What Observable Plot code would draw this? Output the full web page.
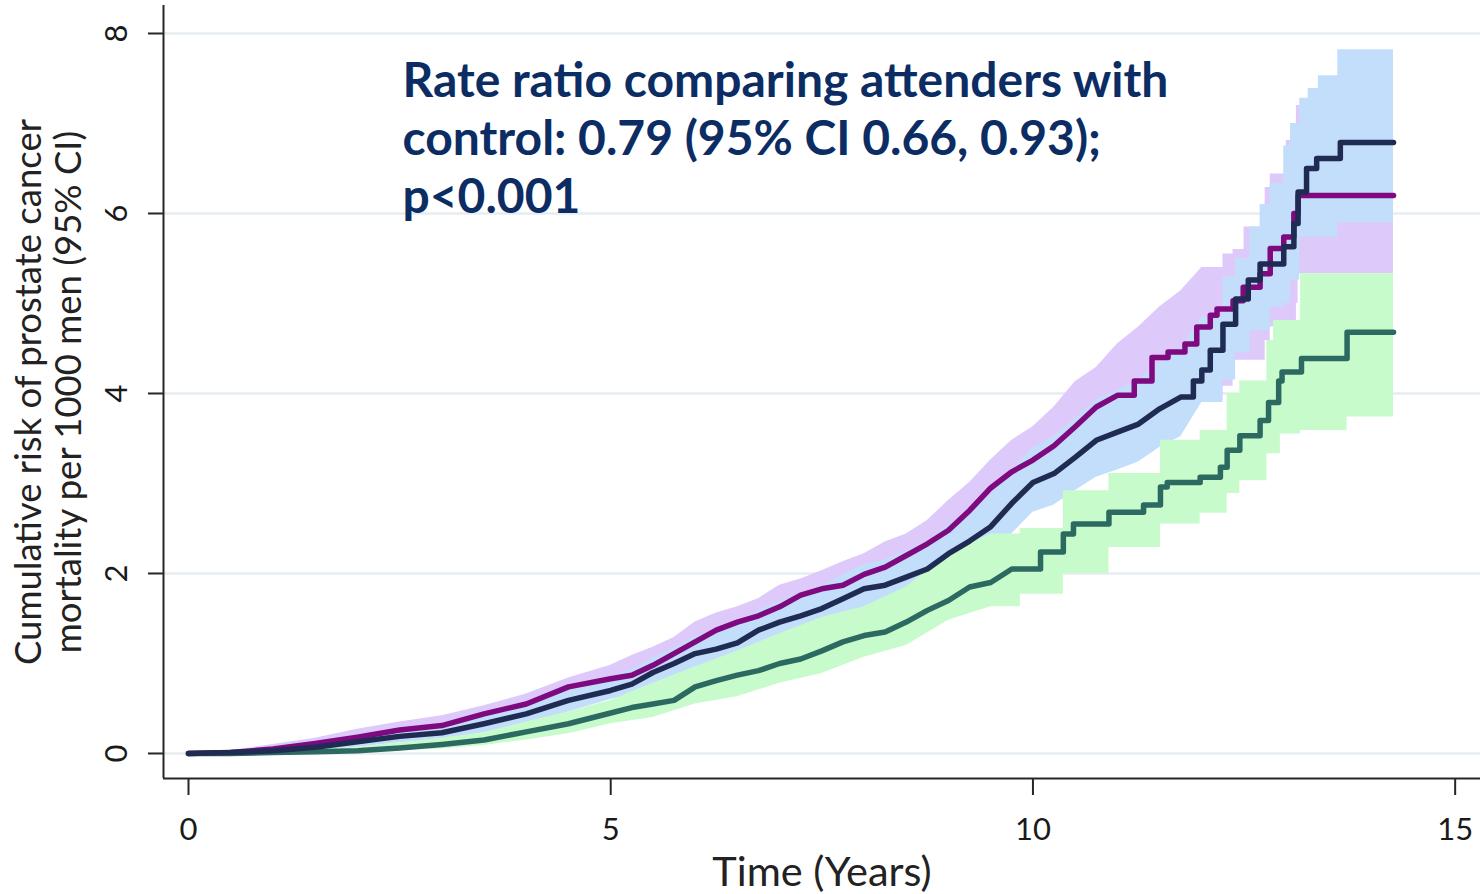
<!DOCTYPE html>
<html>
<head>
<meta charset="utf-8">
<script src="https://cdn.jsdelivr.net/npm/d3@7"></script>
<script src="https://cdn.jsdelivr.net/npm/@observablehq/plot@0.6"></script>
<style>
  html, body { margin: 0; padding: 0; background: #ffffff; }
  #chart svg { display: block; }
</style>
</head>
<body>
<div id="chart"></div>
<script>
// ---------- DATA ----------
const xTicks = [0, 5, 10, 15];
const yTicks = [0, 2, 4, 6, 8];
const xTitle = "Time (Years)";
const yTitle = "Cumulative risk of prostate cancer\nmortality per 1000 men (95% CI)";
const annotation = "Rate ratio comparing attenders with\ncontrol: 0.79 (95% CI 0.66, 0.93);\np<0.001";

// purple series
const purpleT = [0,0.5,1,1.5,2,2.5,3,3.5,4,4.5,5,5.25,5.5,5.75,6,6.25,6.5,6.75,7,7.25,7.5,7.75,8,8.25,8.5,8.75,9,9.25,9.5,9.75,10,10.25,10.5,10.75,11,11.2,11.41,11.6,11.8,11.94,12.1,12.18,12.37,12.49,12.69,12.81,12.97,13.09,13.14,14.27];
const purpleV = [0,0.01,0.05,0.11,0.18,0.26,0.31,0.44,0.55,0.74,0.83,0.87,0.98,1.11,1.24,1.37,1.46,1.53,1.63,1.76,1.83,1.87,1.99,2.07,2.2,2.33,2.48,2.7,2.95,3.13,3.26,3.42,3.63,3.85,3.98,4.14,4.40,4.46,4.55,4.74,4.87,4.94,5.03,5.18,5.33,5.61,5.74,6.0,6.2,6.2];
const purpleBandT = [0,0.5,1,1.5,2,2.5,3,3.5,4,4.5,5,5.25,5.5,5.75,6,6.25,6.5,6.75,7,7.25,7.5,7.75,8,8.25,8.5,8.75,9,9.25,9.5,9.75,10,10.25,10.5,10.75,11,11.25,11.5,11.75,12,12.25,12.37,12.5,12.75,12.81,13.0,13.12,13.14,14.27];
const purpleHi = [0,0.03,0.1,0.17,0.27,0.35,0.42,0.53,0.66,0.84,0.98,1.09,1.18,1.29,1.46,1.56,1.63,1.72,1.87,1.94,2.03,2.13,2.22,2.35,2.44,2.59,2.81,3.01,3.26,3.48,3.63,3.85,4.13,4.29,4.55,4.74,4.96,5.14,5.40,5.55,5.6,5.85,6.29,6.44,6.81,7.2,7.2,7.2];
const purpleLo = [0,0,0.02,0.06,0.11,0.17,0.22,0.33,0.43,0.6,0.68,0.72,0.81,0.92,1.03,1.13,1.2,1.26,1.35,1.45,1.51,1.55,1.65,1.71,1.82,1.93,2.05,2.23,2.44,2.59,2.7,2.83,3.0,3.18,3.29,3.42,3.64,3.76,3.92,4.08,4.37,4.37,4.59,4.74,4.74,5.0,5.33,5.33];

// navy series
const navyT = [0,0.5,1,1.5,2,2.5,3,3.5,4,4.5,5,5.25,5.5,5.75,6,6.25,6.5,6.75,7,7.25,7.5,7.75,8,8.25,8.5,8.75,9,9.25,9.5,9.75,10,10.25,10.5,10.75,11,11.25,11.5,11.75,11.9,12,12.1,12.25,12.4,12.55,12.69,12.97,13.09,13.14,13.24,13.36,13.64,14.27];
const navyV = [0,0.01,0.03,0.07,0.13,0.19,0.23,0.33,0.44,0.59,0.70,0.77,0.90,1.0,1.11,1.16,1.23,1.37,1.46,1.53,1.61,1.72,1.83,1.87,1.96,2.05,2.22,2.36,2.52,2.78,3.01,3.11,3.29,3.48,3.57,3.66,3.83,3.96,4.14,4.26,4.48,4.77,5.05,5.26,5.44,5.63,5.89,6.24,6.5,6.61,6.79,6.79];
const navyBandT = [0,0.5,1,1.5,2,2.5,3,3.5,4,4.5,5,5.25,5.5,5.75,6,6.25,6.5,6.75,7,7.25,7.5,7.75,8,8.25,8.5,8.75,9,9.25,9.5,9.75,10,10.25,10.5,10.75,11,11.25,11.5,11.75,12,12.25,12.4,12.57,12.69,12.81,12.97,13.05,13.16,13.26,13.38,13.61,14.27];
const navyHi = [0,0.02,0.06,0.12,0.2,0.27,0.33,0.45,0.57,0.74,0.85,0.93,1.06,1.17,1.30,1.36,1.44,1.59,1.69,1.77,1.86,1.98,2.1,2.15,2.25,2.35,2.54,2.69,2.87,3.15,3.40,3.52,3.72,3.93,4.03,4.15,4.34,4.5,4.85,5.3,5.5,5.85,6.1,6.33,6.75,7.0,7.28,7.39,7.53,7.82,7.82];
const navyLo = [0,0,0.01,0.03,0.07,0.12,0.15,0.23,0.33,0.46,0.6,0.66,0.77,0.86,0.96,1.0,1.06,1.18,1.27,1.33,1.4,1.5,1.62,1.66,1.73,1.8,1.97,2.08,2.22,2.44,2.68,2.76,2.92,3.07,3.15,3.24,3.4,3.52,3.9,4.15,4.45,4.7,4.7,4.96,5.0,5.26,5.74,5.74,5.74,5.90,5.90];

// green series
const greenT = [0,0.5,1,1.5,2,2.5,3,3.5,4,4.5,5,5.25,5.5,5.75,6,6.25,6.5,6.75,7,7.25,7.5,7.75,8,8.25,8.5,8.75,9,9.25,9.5,9.75,10.09,10.36,10.48,10.9,11.31,11.51,11.59,11.98,12.22,12.3,12.45,12.69,12.79,12.91,12.95,13.18,13.72,14.27];
const greenV = [0,0,0.01,0.02,0.03,0.06,0.1,0.15,0.24,0.33,0.45,0.51,0.55,0.59,0.74,0.81,0.87,0.92,1.0,1.05,1.14,1.24,1.31,1.35,1.46,1.59,1.70,1.85,1.90,2.05,2.24,2.44,2.55,2.68,2.76,2.96,3.01,3.07,3.18,3.37,3.53,3.70,3.90,4.14,4.24,4.39,4.68,4.68];
const greenBandT = [0,0.5,1,1.5,2,2.5,3,3.5,4,4.5,5,5.5,6,6.5,7,7.5,8,8.5,9,9.5,9.85,10.36,10.9,11.51,11.98,12.3,12.45,12.77,12.85,12.93,13.17,13.72,14.27];
const greenHi = [0,0.01,0.03,0.05,0.07,0.12,0.17,0.23,0.35,0.46,0.59,0.78,0.96,1.14,1.33,1.51,1.63,1.85,2.22,2.44,2.5,2.92,3.11,3.48,3.59,4.0,4.14,4.59,4.81,4.81,5.33,5.33,5.33];
const greenLo = [0,0,0,0,0.01,0.03,0.05,0.09,0.15,0.22,0.33,0.40,0.55,0.63,0.78,0.89,1.07,1.2,1.48,1.63,1.77,2.0,2.29,2.55,2.67,2.89,3.03,3.33,3.33,3.55,3.59,3.74,3.74];

// ---------- BUILD ----------
// Early part: readings joined directly; later part: explicit Kaplan–Meier steps.
function linePath(T, V, stepFrom) {
  const out = [];
  T.forEach((t, i) => {
    if (i > 0 && t >= stepFrom) out.push({t, v: V[i - 1]});
    out.push({t, v: V[i]});
  });
  return out;
}
function bandPath(T, lo, hi, stepFrom) {
  const out = [];
  T.forEach((t, i) => {
    if (i > 0 && t >= stepFrom) out.push({t, lo: lo[i - 1], hi: hi[i - 1]});
    out.push({t, lo: lo[i], hi: hi[i]});
  });
  return out;
}

const xDomain = [-0.296, 15.3];
const yDomain = [-0.278, 8.311];
const font = "Lato, 'Open Sans', sans-serif";
const lineStyle = {x: "t", y: "v", strokeWidth: 5.5, strokeLinejoin: "round", strokeLinecap: "round"};
const bandStyle = {x: "t", y1: "lo", y2: "hi"};

const chart = Plot.plot({
  width: 1480,
  height: 894,
  marginLeft: 163,
  marginRight: 0,
  marginTop: 5,
  marginBottom: 116,
  style: {fontFamily: font, background: "#ffffff", color: "#1a1a1a"},
  x: {domain: xDomain},
  y: {domain: yDomain},
  marks: [
    Plot.ruleY(yTicks, {stroke: "#e5edf0", strokeWidth: 2.5}),
    Plot.areaY(bandPath(purpleBandT, purpleLo, purpleHi, 12.2), {...bandStyle, fill: "#ddcafa"}),
    Plot.areaY(bandPath(navyBandT, navyLo, navyHi, 12.2), {...bandStyle, fill: "#c2defb"}),
    Plot.areaY(bandPath(greenBandT, greenLo, greenHi, 9.8), {...bandStyle, fill: "#c8fbcb"}),
    Plot.line(linePath(purpleT, purpleV, 11.1), {...lineStyle, stroke: "#7f0a80"}),
    Plot.line(linePath(greenT, greenV, 10), {...lineStyle, stroke: "#2c6a61"}),
    Plot.line(linePath(navyT, navyV, 11.85), {...lineStyle, stroke: "#1f2b52"}),
    Plot.ruleX([xDomain[0]], {stroke: "#262626", strokeWidth: 2}),
    Plot.ruleY([yDomain[0]], {stroke: "#262626", strokeWidth: 2}),
    Plot.axisX(xTicks, {tickSize: 17, tickPadding: 22, fontSize: 31, label: null, tickFormat: d => String(d), stroke: "#262626", strokeWidth: 2}),
    Plot.axisY(yTicks, {tickSize: 15, tickRotate: -90, tickPadding: 22, fontSize: 31, label: null, tickFormat: d => String(d), stroke: "#262626", strokeWidth: 2}),
    Plot.text([yTitle], {frameAnchor: "left", dx: -115, rotate: -90, textAnchor: "middle", lineAnchor: "middle", fontSize: 36.5, lineHeight: 1.1, fill: "#222"}),
    Plot.text([xTitle], {frameAnchor: "bottom", dy: 94, lineAnchor: "middle", fontSize: 41.5, fill: "#222"}),
    Plot.text([annotation], {frameAnchor: "top-left", dx: 239, dy: 50, textAnchor: "start", lineAnchor: "top", fontSize: 48, fontWeight: "bold", fill: "#0c2d64", lineHeight: 1.21})
  ]
});
document.getElementById("chart").appendChild(chart);
</script>
</body>
</html>
